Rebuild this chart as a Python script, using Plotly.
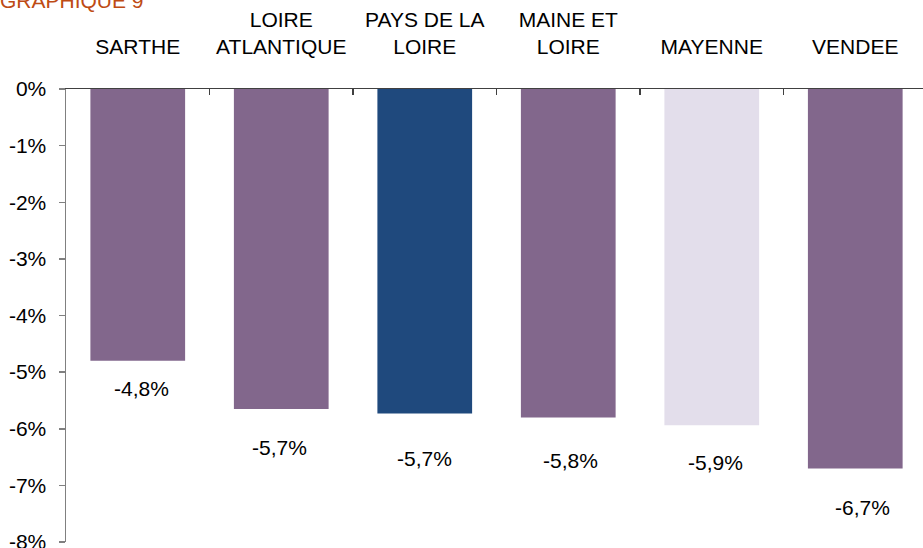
import plotly.graph_objects as go

categories = ["SARTHE", "LOIRE<br>ATLANTIQUE", "PAYS DE LA<br>LOIRE", "MAINE ET<br>LOIRE", "MAYENNE", "VENDEE"]
values = [-4.80, -5.65, -5.73, -5.80, -5.94, -6.70]
value_labels = ["-4,8%", "-5,7%", "-5,7%", "-5,8%", "-5,9%", "-6,7%"]
bar_colors = ["#82678C", "#82678C", "#1F497D", "#82678C", "#E3DEEB", "#82678C"]
label_yshift = [-28, -39, -45, -43, -37, -39]
label_xshift = [4, -2, 0, 2, 4, 7]
y_ticks = [0, -1, -2, -3, -4, -5, -6, -7, -8]
y_ticktext = ["0%", "-1%", "-2%", "-3%", "-4%", "-5%", "-6%", "-7%", "-8%"]

FONT = "Liberation Sans, Arial, sans-serif"
FS = 21
xs = list(range(len(categories)))

fig = go.Figure()
fig.add_trace(go.Bar(x=xs, y=values, marker=dict(color=bar_colors, line=dict(width=0)),
                     width=0.66, showlegend=False, hoverinfo="skip", cliponaxis=False))
# invisible trace to activate xaxis2 (boundary ticks)
fig.add_trace(go.Scatter(x=[0], y=[0], xaxis="x2", mode="markers",
                         marker=dict(opacity=0), showlegend=False, hoverinfo="skip"))

for i, (v, t) in enumerate(zip(values, value_labels)):
    fig.add_annotation(x=xs[i], y=v, text=t, showarrow=False, yanchor="middle",
                       yshift=label_yshift[i], xshift=label_xshift[i],
                       font=dict(family=FONT, size=FS, color="#000000"))

fig.add_annotation(x=0, y=1, xref="paper", yref="paper", xanchor="left", yanchor="bottom",
                   text="GRAPHIQUE 9", showarrow=False, yshift=75, xshift=-68,
                   font=dict(family=FONT, size=FS, color="#BE4B14"))

xr = [-0.5, 5.472]
fig.update_layout(
    width=923, height=548,
    margin=dict(l=66, r=0, t=89, b=6, autoexpand=False),
    paper_bgcolor="white", plot_bgcolor="white",
    font=dict(family=FONT, size=FS, color="#000000"),
    xaxis=dict(side="top", range=xr, tickmode="array", tickvals=xs, ticktext=categories,
               showline=True, linecolor="#404040", linewidth=1.5, ticks="",
               showgrid=False, zeroline=False, ticklabelstandoff=25, automargin=False,
               tickfont=dict(family=FONT, size=FS, color="#000000")),
    xaxis2=dict(overlaying="x", side="top", range=xr, tickmode="array",
                tickvals=[0.5, 1.5, 2.5, 3.5, 4.5], ticks="inside", ticklen=6,
                tickcolor="#404040", tickwidth=1.5, showticklabels=False,
                showgrid=False, zeroline=False, showline=False, automargin=False),
    yaxis=dict(range=[-8, 0], tickmode="array", tickvals=y_ticks, ticktext=y_ticktext,
               showline=True, linecolor="#808080", linewidth=1.5, ticks="outside",
               ticklen=6, tickcolor="#808080", tickwidth=1.5, showgrid=False,
               zeroline=False, ticklabelstandoff=8, automargin=False,
               ticklabeloverflow="allow",
               tickfont=dict(family=FONT, size=FS, color="#000000")),
    bargap=0.34,
)

fig.write_html("out.html", config={"displayModeBar": False, "staticPlot": True},
               post_script="document.body.style.margin='0';document.body.style.overflow='hidden';")
